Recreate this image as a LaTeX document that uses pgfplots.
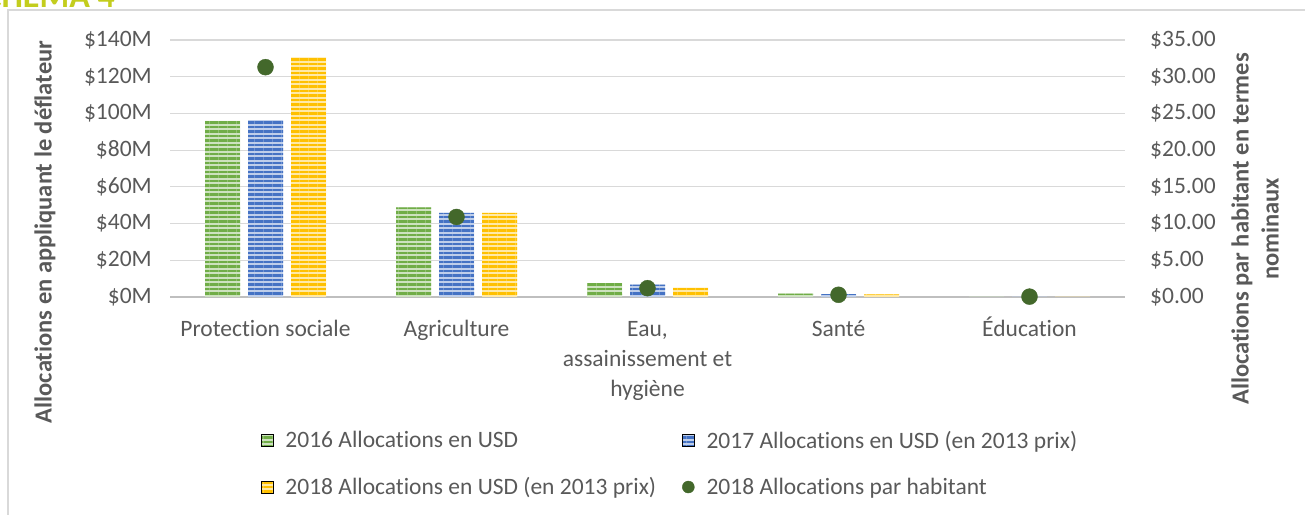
\documentclass[border=0pt]{standalone}
\usepackage{fontspec}
\setmainfont{Carlito}[Ligatures={NoCommon}]
\usepackage{pgfplots}
\pgfplotsset{compat=1.18}
\usetikzlibrary{patterns.meta}
\definecolor{cgreen}{HTML}{70AD47}
\definecolor{cblue}{HTML}{4472C4}
\definecolor{cyellow}{HTML}{FFC000}
\definecolor{dotgreen}{HTML}{43682B}
\definecolor{gridgray}{HTML}{D9D9D9}
\definecolor{basegray}{HTML}{BFBFBF}
\definecolor{textgray}{HTML}{595959}
\definecolor{titlecol}{RGB}{195,205,30}
\tikzset{
  gbar/.style={fill=cgreen!35!white, draw=none, postaction={pattern={Lines[angle=0,distance=4.5pt,line width=2.4pt]}, pattern color=cgreen}},
  bbar/.style={fill=cblue!35!white, draw=none, postaction={pattern={Lines[angle=0,distance=4.5pt,line width=2.4pt]}, pattern color=cblue}},
  ybarst/.style={fill=cyellow!35!white, draw=none, postaction={pattern={Lines[angle=0,distance=4.5pt,line width=2.4pt]}, pattern color=cyellow}},
}
\begin{document}
\begin{tikzpicture}
\useasboundingbox (0pt,0pt) rectangle (1305pt,514pt);
\draw[color=gridgray, line width=1.5pt] (8pt,-20pt) rectangle (1330pt,504pt);
\node[anchor=base east, font=\fontsize{34}{40}\selectfont\bfseries, text=titlecol, inner sep=0pt] at (115pt,506pt) {SCHÉMA 4};

\begin{axis}[
  scale only axis, width=955pt, height=257pt,
  at={(170pt,217pt)}, anchor=south west,
  xmin=-0.5, xmax=4.5, ymin=0, ymax=140,
  ytick={0,20,...,140},
  yticklabels={\$0M,\$20M,\$40M,\$60M,\$80M,\$100M,\$120M,\$140M},
  xtick={0,1,2,3,4},
  xticklabels={\vphantom{É}Protection sociale,\vphantom{É}Agriculture,{\vphantom{É}Eau,\\assainissement et\\hygiène},\vphantom{É}Santé,Éducation},
  ymajorgrids, grid style={color=gridgray, line width=1.2pt},
  extra y ticks={0}, extra y tick labels={},
  extra y tick style={grid style={color=basegray, line width=2.5pt}},
  axis line style={draw=none}, major tick length=0pt,
  yticklabel style={font=\fontsize{23.5}{27}\selectfont, text=textgray, anchor=east, inner sep=0pt, xshift=-18pt},
  xticklabel style={font=\fontsize{23.5}{30}\selectfont, text=textgray, align=center, anchor=north, inner sep=0pt, yshift=-20pt},
  ybar, bar width=35pt,
]
\addplot[gbar, bar shift=-43pt] coordinates {(0,96.0) (1,48.8) (2,7.5) (3,1.8) (4,0.2)};
\addplot[bbar, bar shift=0pt] coordinates {(0,96.4) (1,45.8) (2,6.8) (3,1.5) (4,0.2)};
\addplot[ybarst, bar shift=43pt] coordinates {(0,130.5) (1,45.8) (2,5.1) (3,1.4) (4,0.2)};
\end{axis}

\begin{axis}[
  scale only axis, width=955pt, height=257pt,
  at={(170pt,217pt)}, anchor=south west,
  xmin=-0.5, xmax=4.5, ymin=0, ymax=35,
  axis y line*=right, axis x line=none, clip=false,
  ytick={0,5,...,35},
  yticklabels={\$0.00,\$5.00,\$10.00,\$15.00,\$20.00,\$25.00,\$30.00,\$35.00},
  axis line style={draw=none}, major tick length=0pt,
  yticklabel style={font=\fontsize{23.5}{27}\selectfont, text=textgray, anchor=west, inner sep=0pt, xshift=25pt},
  legend columns=2,
  legend cell align=left,
  legend style={draw=none, fill=none, at={(0.092,-0.505)}, anchor=north west,
    font=\fontsize{23.5}{28}\selectfont, text=textgray, row sep=24pt,
    nodes={inner xsep=12pt},
    /tikz/every even column/.append style={column sep=14pt}},
]
\addlegendimage{legend image code/.code={\path[gbar] (0pt,-6pt) rectangle (12pt,6pt);}}
\addlegendimage{legend image code/.code={\path[bbar] (0pt,-6pt) rectangle (12pt,6pt);}}
\addlegendimage{legend image code/.code={\path[ybarst] (0pt,-6pt) rectangle (12pt,6pt);}}
\addplot[only marks, mark=*, mark size=8pt, color=dotgreen,
  legend image code/.code={\draw[mark size=6pt, mark=*, only marks, dotgreen] plot coordinates {(6pt,0pt)};}]
  coordinates {(0,31.3) (1,10.9) (2,1.2) (3,0.3) (4,0.05)};
\legend{2016 Allocations en USD, 2017 Allocations en USD (en 2013 prix), 2018 Allocations en USD (en 2013 prix), 2018 Allocations par habitant}
\end{axis}

\node[rotate=90, font=\bfseries\fontsize{24.5}{28}\selectfont, text=textgray] at (45pt,282pt) {Allocations en appliquant le déflateur};
\node[rotate=90, align=center, font=\bfseries\fontsize{24.5}{30}\selectfont, text=textgray] at (1255pt,285pt) {Allocations par habitant en termes\\nominaux};
\end{tikzpicture}
\end{document}
